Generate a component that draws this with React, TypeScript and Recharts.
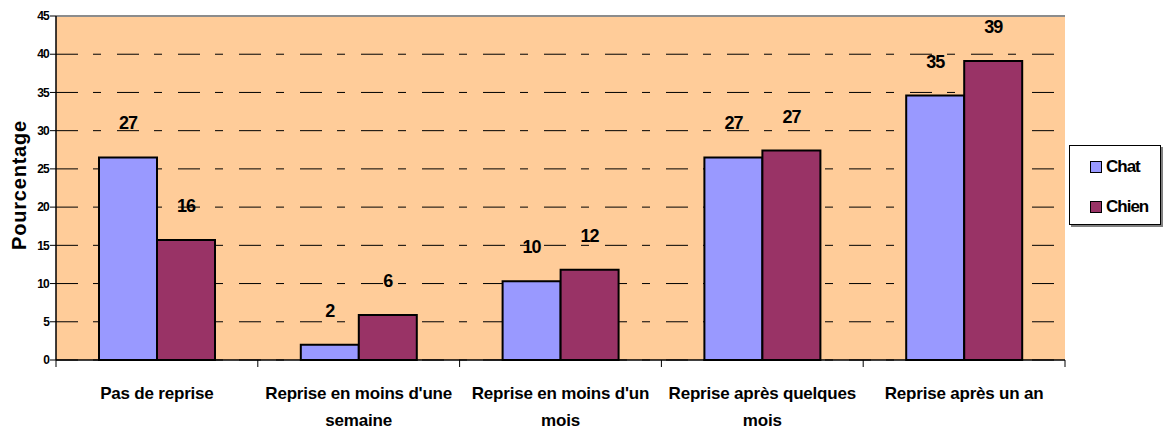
import React from "react";
import {
	Bar,
	BarChart,
	CartesianGrid,
	LabelList,
	ReferenceLine,
	Text,
	XAxis,
	YAxis,
} from "recharts";

const CATEGORIES = [
	"Pas de reprise",
	"Reprise en moins d'une semaine",
	"Reprise en moins d'un mois",
	"Reprise après quelques mois",
	"Reprise après un an",
];
const CHAT = [26.5, 2, 10.3, 26.5, 34.6];
const CHIEN = [15.7, 5.9, 11.8, 27.4, 39.1];
const Y_TICKS = [0, 5, 10, 15, 20, 25, 30, 35, 40, 45];

const SERIES = [
	{ key: "chat", name: "Chat", color: "#9999FF" },
	{ key: "chien", name: "Chien", color: "#993366" },
];

const data = CATEGORIES.map((name, i) => ({
	name,
	chat: CHAT[i],
	chien: CHIEN[i],
}));

const FONT = "Liberation Sans, Arial, sans-serif";

const tickTextStyle = {
	fontFamily: FONT,
	fontWeight: "bold",
	fontSize: 17,
	letterSpacing: -0.2,
};

function CategoryTick(props: any) {
	const { x, payload, index } = props;
	const half = payload?.offset ?? 101;
	const top = 360;
	return (
		<g>
			<line x1={x - half} x2={x - half} y1={top} y2={top + 7} stroke="#000" />
			{index === CATEGORIES.length - 1 && (
				<line x1={x + half} x2={x + half} y1={top} y2={top + 7} stroke="#000" />
			)}
			<Text
				x={x}
				y={387}
				width={198}
				lineHeight={27}
				textAnchor="middle"
				verticalAnchor="start"
				style={tickTextStyle}
				fill="#000"
			>
				{payload.value}
			</Text>
		</g>
	);
}

function LegendBox() {
	return (
		<div
			style={{
				position: "absolute",
				left: 1069,
				top: 145,
				width: 92,
				height: 80,
				background: "#fff",
				border: "1px solid #000",
				boxShadow: "2px 2px 0 #808080",
				boxSizing: "border-box",
				fontFamily: FONT,
				fontWeight: "bold",
				fontSize: 17,
				letterSpacing: -1,
				paddingTop: 10,
				paddingLeft: 20,
			}}
		>
			{SERIES.map((s) => (
				<div
					key={s.key}
					style={{ display: "flex", alignItems: "center", height: 22, marginBottom: 18 }}
				>
					<span
						style={{
							width: 10,
							height: 10,
							background: s.color,
							border: "1.5px solid #000",
							marginRight: 4,
							display: "inline-block",
						}}
					/>
					{s.name}
				</div>
			))}
		</div>
	);
}

export default function App() {
	return (
		<div style={{ position: "relative", width: 1163, height: 433 }}>
			<style>{`body{margin:0;}`}</style>
			<BarChart
				width={1163}
				height={433}
				data={data}
				barSize={58}
				barGap={0}
				margin={{ top: 16, right: 98, bottom: 0, left: 0 }}
			>
				<CartesianGrid
					vertical={false}
					fill="#FFCC99"
					stroke="#000"
					strokeDasharray="22 15 8 16"
				/>
				<XAxis
					dataKey="name"
					height={73}
					axisLine={{ stroke: "#000", strokeWidth: 1.5 }}
					tickLine={false}
					interval={0}
					tick={<CategoryTick />}
				/>
				<YAxis
					domain={[0, 45]}
					ticks={Y_TICKS}
					interval={0}
					width={56}
					axisLine={{ stroke: "#000", strokeWidth: 1.5 }}
					tickLine={{ stroke: "#000" }}
					tickSize={6}
					tickMargin={1}
					tick={{
						fontSize: 12,
						fontWeight: "bold",
						fill: "#000",
						fontFamily: FONT,
						letterSpacing: -0.8,
					}}
					label={{
						content: () => (
							<text
								transform="translate(19,185) rotate(-90)"
								textAnchor="middle"
								dominantBaseline="central"
								fontFamily={FONT}
								fontWeight="bold"
								fontSize={20}
								letterSpacing={0.8}
								fill="#000"
							>
								Pourcentage
							</text>
						),
					}}
				/>
				<YAxis
					yAxisId="right"
					orientation="right"
					domain={[0, 45]}
					width={0}
					tick={false}
					tickLine={false}
					axisLine={{ stroke: "#8c8c8c", strokeWidth: 2 }}
				/>
				<ReferenceLine y={45} stroke="#8c8c8c" strokeWidth={2} />
				{SERIES.map((s) => (
					<Bar
						key={s.key}
						dataKey={s.key}
						name={s.name}
						fill={s.color}
						stroke="#000"
						strokeWidth={2}
						isAnimationActive={false}
					>
						<LabelList
							dataKey={s.key}
							position="top"
							offset={28}
							formatter={(v: any) => Math.round(Number(v))}
							style={{
								fontFamily: FONT,
								fontWeight: "bold",
								fontSize: 18,
								fill: "#000",
								letterSpacing: -1,
							}}
						/>
					</Bar>
				))}
			</BarChart>
			<LegendBox />
		</div>
	);
}
